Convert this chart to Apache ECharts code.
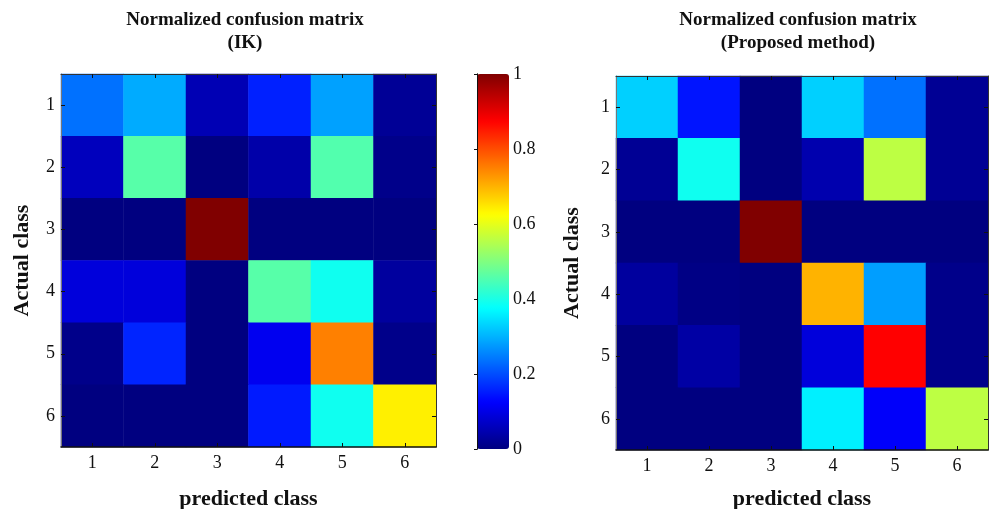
<!DOCTYPE html>
<html>
<head>
<meta charset="utf-8">
<script src="https://cdn.jsdelivr.net/npm/echarts@6/dist/echarts.min.js"></script>
<style>html,body{margin:0;padding:0;background:#fff}#c{width:990px;height:509px}</style>
</head>
<body>
<div id="c"></div>
<script>
// ---- data ----
const classes = ['1', '2', '3', '4', '5', '6'];
// rows = actual class 1..6, columns = predicted class 1..6
const ikMatrix = [
  [0.235, 0.292, 0.051, 0.156, 0.282, 0.022],
  [0.060, 0.460, 0.000, 0.040, 0.455, 0.010],
  [0.000, 0.000, 1.000, 0.000, 0.000, 0.000],
  [0.090, 0.090, 0.000, 0.460, 0.390, 0.030],
  [0.010, 0.160, 0.000, 0.110, 0.750, 0.010],
  [0.000, 0.000, 0.000, 0.150, 0.390, 0.640]
];
const proposedMatrix = [
  [0.329, 0.145, 0.000, 0.329, 0.235, 0.020],
  [0.020, 0.390, 0.000, 0.045, 0.560, 0.020],
  [0.000, 0.000, 1.000, 0.000, 0.000, 0.000],
  [0.030, 0.005, 0.000, 0.700, 0.280, 0.010],
  [0.000, 0.035, 0.000, 0.090, 0.875, 0.010],
  [0.000, 0.000, 0.000, 0.360, 0.120, 0.560]
];
const titles = ['Normalized confusion matrix\n(IK)', 'Normalized confusion matrix\n(Proposed method)'];
const xName = 'predicted class';
const yName = 'Actual class';
const colorMin = 0, colorMax = 1, colorStep = 0.2;

// jet colormap, evenly spaced stops
const jet = ['#000080', '#0000ff', '#0080ff', '#00ffff', '#80ff80', '#ffff00', '#ff8000', '#ff0000', '#800000'];

function toCells(m) {
  const out = [];
  m.forEach((row, r) => row.forEach((v, c) => out.push([c, r, v])));
  return out;
}

const FONT = 'Liberation Serif';
const TICKFS = 18;
const grids = [
  { left: 61, top: 74, width: 375, height: 373 },
  { left: 616, top: 76, width: 372, height: 374 },
  { left: 477, top: 74, width: 32, height: 375 }
];

function catX(gi, name, nameGap) {
  return {
    type: 'category', gridIndex: gi, data: classes, position: 'bottom',
    axisLine: { show: true, lineStyle: { color: '#111', width: 1.5 } },
    axisTick: { show: true, inside: true, alignWithLabel: true, length: 4, lineStyle: { color: '#111' } },
    axisLabel: { fontFamily: FONT, fontSize: TICKFS, color: '#111', margin: 7 },
    splitLine: { show: false },
    name: name, nameLocation: 'middle', nameGap: nameGap, nameMoveOverlap: false,
    nameTextStyle: { fontFamily: FONT, fontSize: 22, fontWeight: 'bold', color: '#111' },
    z: 10
  };
}
function catXTop(gi) {
  return {
    type: 'category', gridIndex: gi, data: classes, position: 'top',
    axisLine: { show: true, lineStyle: { color: '#333', width: 1 } },
    axisTick: { show: true, inside: true, alignWithLabel: true, length: 4, lineStyle: { color: '#111' } },
    axisLabel: { show: false }, z: 10
  };
}
function catY(gi, name, nameGap) {
  return {
    type: 'category', gridIndex: gi, data: classes, inverse: true, position: 'left',
    axisLine: { show: true, lineStyle: { color: '#777', width: 1 } },
    axisTick: { show: true, inside: true, alignWithLabel: true, length: 4, lineStyle: { color: '#111' } },
    axisLabel: { fontFamily: FONT, fontSize: TICKFS, color: '#111', margin: 6 },
    name: name, nameLocation: 'middle', nameGap: nameGap, nameMoveOverlap: false,
    nameTextStyle: { fontFamily: FONT, fontSize: 22, fontWeight: 'bold', color: '#111' },
    z: 10
  };
}
function catYRight(gi) {
  return {
    type: 'category', gridIndex: gi, data: classes, inverse: true, position: 'right',
    axisLine: { show: true, lineStyle: { color: '#333', width: 1 } },
    axisTick: { show: true, inside: true, alignWithLabel: true, length: 4, lineStyle: { color: '#111' } },
    axisLabel: { show: false }, z: 10
  };
}

const option = {
  backgroundColor: '#fff',
  animation: false,
  title: [
    { text: titles[0], left: 245, top: 9, textAlign: 'center', padding: 0,
      textStyle: { fontFamily: FONT, fontSize: 19, fontWeight: 'bold', color: '#111', lineHeight: 23 } },
    { text: titles[1], left: 798, top: 9, textAlign: 'center', padding: 0,
      textStyle: { fontFamily: FONT, fontSize: 19, fontWeight: 'bold', color: '#111', lineHeight: 23 } }
  ],
  grid: grids.map(g => Object.assign({ show: false, containLabel: false, outerBoundsMode: 'none' }, g)),
  xAxis: [
    catX(0, xName, 41), catXTop(0),
    catX(1, xName, 38), catXTop(1),
    { type: 'value', gridIndex: 2, show: false, min: 0, max: 1 }
  ],
  yAxis: [
    catY(0, yName, 28), catYRight(0),
    catY(1, yName, 33), catYRight(1),
    {
      type: 'value', gridIndex: 2, position: 'right', min: colorMin, max: colorMax, interval: colorStep,
      axisLine: { show: true, lineStyle: { color: '#111' } },
      axisTick: { show: true, inside: true, length: 3, lineStyle: { color: '#111' } },
      axisLabel: { fontFamily: FONT, fontSize: TICKFS, color: '#111', margin: 4,
        formatter: v => String(Math.round(v * 10) / 10) },
      splitLine: { show: false }, zlevel: 1, z: 20
    },
    {
      type: 'value', gridIndex: 2, position: 'left', min: colorMin, max: colorMax, interval: colorStep,
      axisLine: { show: true, lineStyle: { color: '#111' } },
      axisTick: { show: false },
      axisLabel: { show: false }, splitLine: { show: false }, zlevel: 1, z: 20
    }
  ],
  visualMap: {
    type: 'continuous', min: colorMin, max: colorMax, calculable: false,
    seriesIndex: [0, 1], orient: 'vertical', left: 477, top: 74, padding: 0,
    itemWidth: 32, itemHeight: 375, text: null, showLabel: false, z: 1,
    inRange: { color: jet }, hoverLink: false
  },
  series: [
    { type: 'heatmap', xAxisIndex: 0, yAxisIndex: 0, data: toCells(ikMatrix), itemStyle: { borderWidth: 0 }, emphasis: { disabled: true } },
    { type: 'heatmap', xAxisIndex: 2, yAxisIndex: 2, data: toCells(proposedMatrix), itemStyle: { borderWidth: 0 }, emphasis: { disabled: true } }
  ]
};

const chart = echarts.init(document.getElementById('c'), null, { renderer: 'canvas' });
chart.setOption(option);
</script>
</body>
</html>
